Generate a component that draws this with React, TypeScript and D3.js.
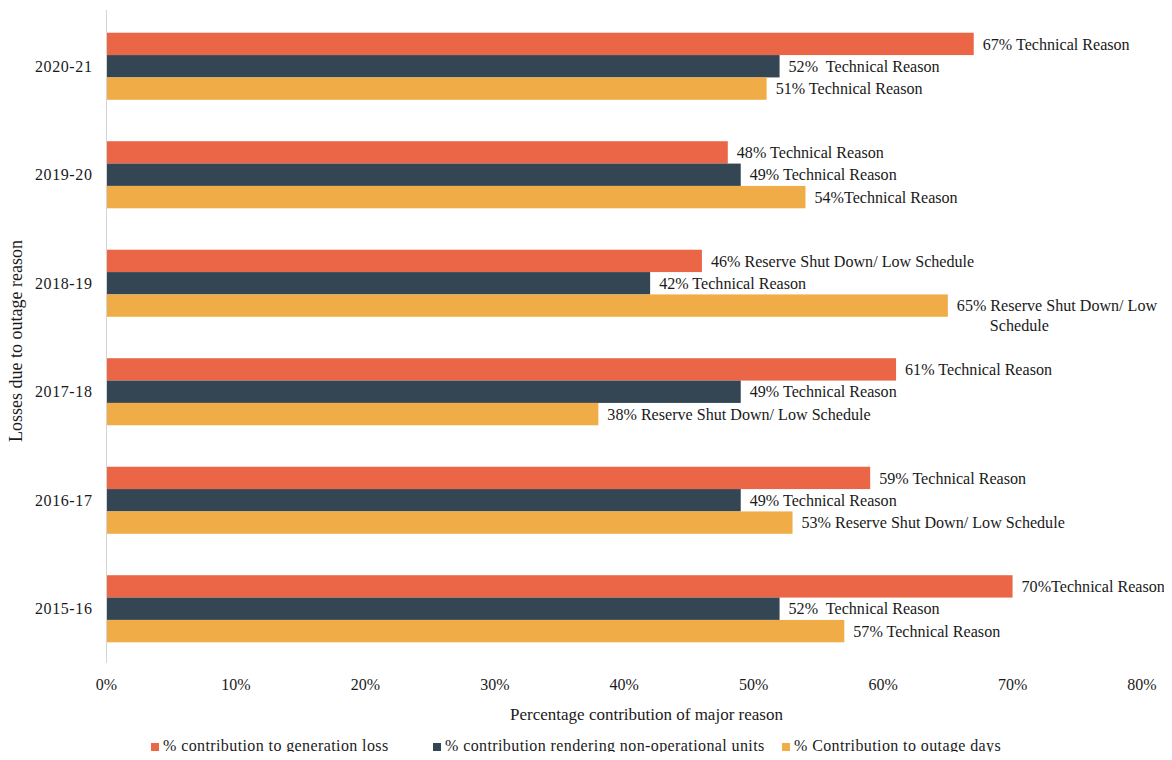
import React from "react";
import * as d3 from "d3";

// Financial years, top to bottom
const years = ["2020-21", "2019-20", "2018-19", "2017-18", "2016-17", "2015-16"];

// Series names (legend order)
const seriesNames = [
  "% contribution to generation loss",
  "% contribution rendering non-operational units",
  "% Contribution to outage days",
];
const seriesColors = ["#EB6547", "#344654", "#F0AC46"];

// Percent values per year
const generationLoss = [67, 48, 46, 61, 59, 70];
const nonOperationalUnits = [52, 49, 42, 49, 49, 52];
const outageDays = [51, 54, 65, 38, 53, 57];

// Major reason behind each value (text after the percent; "|" breaks the line)
const generationLossReason = [
  " Technical Reason",
  " Technical Reason",
  " Reserve Shut Down/ Low Schedule",
  " Technical Reason",
  " Technical Reason",
  "Technical Reason",
];
const nonOperationalReason = [
  "  Technical Reason",
  " Technical Reason",
  " Technical Reason",
  " Technical Reason",
  " Technical Reason",
  "  Technical Reason",
];
const outageDaysReason = [
  " Technical Reason",
  "Technical Reason",
  " Reserve Shut Down/ Low|Schedule",
  " Reserve Shut Down/ Low Schedule",
  " Reserve Shut Down/ Low Schedule",
  " Technical Reason",
];

const xTicks = [0, 10, 20, 30, 40, 50, 60, 70, 80];

const W = 1172;
const H = 760;
const FONT = "'Liberation Serif', 'Times New Roman', serif";
const INK = "#1a1a1a";

export default function App() {
  const x = d3.scaleLinear().domain([0, 80]).range([106.5, 1142]);
  const y = d3
    .scaleBand<string>()
    .domain(years)
    .range([12, 663])
    .paddingInner(0.382)
    .paddingOuter(0.191);
  const sub = d3
    .scaleBand<number>()
    .domain([0, 1, 2])
    .range([0, y.bandwidth()]);

  const series = [generationLoss, nonOperationalUnits, outageDays];
  const reasons = [generationLossReason, nonOperationalReason, outageDaysReason];

  const legendX = [151, 433, 782];

  return (
    <div style={{ margin: -8 }}>
      <svg width={W} height={H} style={{ display: "block", background: "#fff" }} fontFamily={FONT}>
        {/* bars */}
        {years.map((yr, i) => (
          <g key={yr} transform={`translate(0,${y(yr)})`}>
            {series.map((vals, s) => (
              <rect
                key={s}
                x={x(0)}
                y={sub(s)}
                width={x(vals[i]) - x(0)}
                height={sub.bandwidth()}
                fill={seriesColors[s]}
              />
            ))}
          </g>
        ))}

        {/* value labels */}
        {years.map((yr, i) => (
          <g key={yr + "-lab"} transform={`translate(0,${y(yr)})`}>
            {series.map((vals, s) => {
              const parts = reasons[s][i].split("|");
              const lx = x(vals[i]) + 9;
              const ly = (sub(s) as number) + sub.bandwidth() / 2;
              return (
                <g key={s}>
                  <text
                    x={lx}
                    y={ly}
                    dy="0.35em"
                    fontSize={16.1}
                    fill={INK}
                    xmlSpace="preserve"
                    style={{ whiteSpace: "pre" }}
                  >
                    {`${vals[i]}%${parts[0]}`}
                  </text>
                  {parts[1] && (
                    <text x={lx + 33} y={ly + 20} dy="0.35em" fontSize={16.1} fill={INK}>
                      {parts[1]}
                    </text>
                  )}
                </g>
              );
            })}
          </g>
        ))}

        {/* y axis line */}
        <line x1={x(0)} x2={x(0)} y1={10} y2={663} stroke="#d4d4d4" strokeWidth={1} />

        {/* y tick labels */}
        {years.map((yr) => (
          <text
            key={yr + "-t"}
            x={92.5}
            y={(y(yr) as number) + y.bandwidth() / 2}
            dy="0.35em"
            textAnchor="end"
            fontSize={16}
            letterSpacing={0.6}
            fill={INK}
          >
            {yr}
          </text>
        ))}

        {/* x tick labels */}
        {xTicks.map((t) => (
          <text key={t} x={x(t)} y={684} dy="0.35em" textAnchor="middle" fontSize={16} fill={INK}>
            {`${t}%`}
          </text>
        ))}

        {/* axis titles */}
        <text x={646.5} y={714} dy="0.35em" textAnchor="middle" fontSize={17} fill={INK}>
          Percentage contribution of major reason
        </text>
        <text
          transform={`translate(16,341) rotate(-90)`}
          dy="0.35em"
          textAnchor="middle"
          fontSize={18}
          fill={INK}
        >
          Losses due to outage reason
        </text>

        {/* legend */}
        {seriesNames.map((name, s) => (
          <g key={name} transform={`translate(${legendX[s]},751)`}>
            <rect x={0} y={-8} width={8} height={8} fill={seriesColors[s]} />
            <text x={12} y={0} fontSize={16} letterSpacing={0.4} fill={INK}>
              {name}
            </text>
          </g>
        ))}
      </svg>
    </div>
  );
}
